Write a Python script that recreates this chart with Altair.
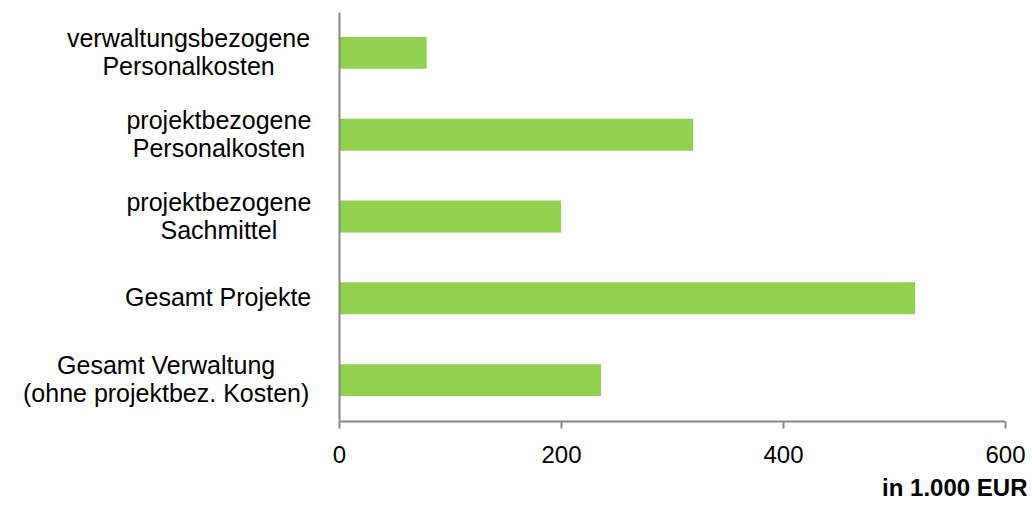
import altair as alt
import pandas as pd

# ---- data ----
categories = [
    "verwaltungsbezogene\nPersonalkosten",
    "projektbezogene\nPersonalkosten",
    "projektbezogene\nSachmittel",
    "Gesamt Projekte",
    "Gesamt Verwaltung\n(ohne projektbez. Kosten)",
]
values = [79, 319, 200, 519, 236]
x_ticks = [0, 200, 400, 600]
x_title = "in 1.000 EUR"

FONT = "Liberation Sans"
AXIS_GRAY = "#898989"
BAR_GREEN = "#92D050"
LINE_HEIGHT = 28

# approximate Arial glyph widths (em) to centre each multi-line label block
ARIAL_EM = {
    "a": .556, "b": .556, "c": .5, "e": .556, "g": .556, "h": .556, "i": .222,
    "j": .222, "k": .5, "l": .222, "m": .833, "n": .556, "o": .556, "p": .556,
    "r": .333, "s": .5, "t": .278, "u": .556, "v": .5, "w": .722, "z": .5,
    "P": .667, "S": .667, "G": .778, "V": .667, "K": .667, "(": .333, ")": .333,
    ".": .278, " ": .278,
}


def em_width(s):
    return sum(ARIAL_EM.get(c, 0.556) for c in s)


LABEL_GAP = 24      # gap between label block and axis (px)
LABEL_SCALE = 26    # effective px per em of the reference labels

df = pd.DataFrame({"cat": categories, "value": values})
label_df = pd.DataFrame({
    "cat": categories,
    "nlines": [len(c.split("\n")) for c in categories],
    "cx": [-(LABEL_GAP + max(em_width(l) for l in c.split("\n")) * LABEL_SCALE / 2)
           for c in categories],
})

y_scale = alt.Scale(domain=categories, paddingInner=0.61, paddingOuter=0.305)
y_axis = alt.Axis(labels=False, ticks=False, title=None, domainColor=AXIS_GRAY,
                  domainWidth=2, zindex=1, grid=False)

bars = alt.Chart(df).mark_bar(color=BAR_GREEN).encode(
    x=alt.X(
        "value:Q",
        scale=alt.Scale(domain=[0, 600], nice=False),
        axis=alt.Axis(
            values=x_ticks, grid=False, title=x_title, format="d",
            labelFont=FONT, labelFontSize=24, labelColor="black",
            labelPadding=15, labelFlush=False,
            tickSize=7, tickWidth=2, tickColor=AXIS_GRAY,
            domainColor=AXIS_GRAY, domainWidth=2,
            titleFont=FONT, titleFontSize=24, titleFontWeight="bold",
            titleColor="black", titleAlign="right", titleBaseline="alphabetic",
            titleX=688, titleY=74,
        ),
    ),
    y=alt.Y("cat:N", sort=categories, scale=y_scale, axis=y_axis),
)

layers = [bars]
for n in sorted(label_df["nlines"].unique()):
    layers.append(
        alt.Chart(label_df[label_df["nlines"] == n]).mark_text(
            align="center", baseline="middle", lineBreak="\n",
            lineHeight=LINE_HEIGHT, dy=-(int(n) - 1) * LINE_HEIGHT / 2,
            font=FONT, fontSize=25, color="black",
        ).encode(
            x=alt.X("cx:Q", scale=None, axis=None),
            y=alt.Y("cat:N", sort=categories, scale=y_scale, axis=y_axis),
            text=alt.Text("cat:N"),
        )
    )

chart = alt.layer(*layers).resolve_scale(x="independent").properties(
    width=666,
    height=409,
    padding={"left": 339, "top": 12, "right": 27, "bottom": 84},
    autosize="none",
    background="white",
).configure_view(stroke=None)

chart.save("out.html", embed_options={"renderer": "svg", "actions": False})
